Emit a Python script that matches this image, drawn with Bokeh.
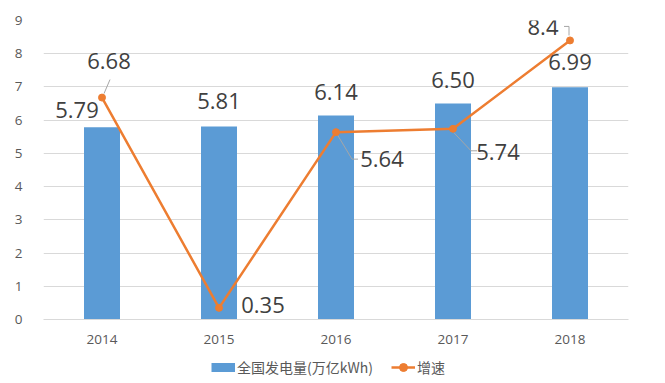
import numpy as np
from bokeh.plotting import figure
from bokeh.layouts import column
from bokeh.models import (ColumnDataSource, FixedTicker, Legend, LegendItem, Range1d)
from bokeh.core.properties import value
from bokeh.embed import file_html
from bokeh.resources import INLINE

# ---- data ----
years = ["2014", "2015", "2016", "2017", "2018"]
generation = [5.79, 5.81, 6.14, 6.50, 6.99]      # 全国发电量(万亿kWh)
growth = [6.68, 0.35, 5.64, 5.74, 8.4]            # 增速
gen_labels = ["5.79", "5.81", "6.14", "6.50", "6.99"]
growth_labels = ["6.68", "0.35", "5.64", "5.74", "8.4"]
y_ticks = [0, 1, 2, 3, 4, 5, 6, 7, 8, 9]
series_names = ["全国发电量(万亿kWh)", "增速"]

# ---- style / layout constants ----
BLUE = "#5B9BD5"
ORANGE = "#ED7D31"
GRID = "#D9D9D9"
TICK_TXT = "#595959"
LBL_TXT = "#404040"
LEADER = "#A6A6A6"

W = 665
H_MAIN = 350
H_LEG = 33
PX_X = 117.0          # pixels per category
PX_Y = 299.0 / 9.0    # pixels per y unit

# label offsets in pixels (screen, y down)
gen_dx = [-25, 0, 0, 0, 0]
gen_dy = [-17, -25, -24, -24, -25]
gr_dx = [7, 44, 46, 45, -27]
gr_dy = [-37, -3, 27, 23, -13]
# leader polylines in pixel offsets from the point
leaders_px = {
    0: [(2, -4), (8, -18)],
    2: [(1, 2), (16, 27), (22, 27)],
    3: [(1, 4), (18, 22), (24, 22)],
    4: [(-1, -5), (-1, -14), (-6, -14)],
}

xs = list(range(len(years)))

p = figure(width=W, height=H_MAIN, output_backend="svg", toolbar_location=None,
           x_range=Range1d(-0.5, len(years) - 0.5), y_range=Range1d(0, 9),
           min_border_left=43, min_border_right=37, min_border_top=20,
           min_border_bottom=H_MAIN - 319)
p.outline_line_color = None
p.background_fill_color = "white"
p.border_fill_color = "white"

# grid
p.xgrid.grid_line_color = None
p.ygrid.grid_line_color = GRID
p.ygrid.grid_line_width = 1
p.ygrid.ticker = FixedTicker(ticks=y_ticks)

# axes
p.yaxis.ticker = FixedTicker(ticks=y_ticks)
p.yaxis.axis_line_color = None
p.yaxis.major_tick_line_color = None
p.yaxis.minor_tick_line_color = None
p.yaxis.major_label_standoff = 15
p.yaxis.major_label_text_font = "Open Sans"
p.yaxis.major_label_text_font_size = "13.5px"
p.yaxis.major_label_text_color = TICK_TXT

p.xaxis.ticker = FixedTicker(ticks=xs)
p.xaxis.major_label_overrides = {i: y for i, y in enumerate(years)}
p.xaxis.axis_line_color = GRID
p.xaxis.major_tick_line_color = None
p.xaxis.minor_tick_line_color = None
p.xaxis.major_label_standoff = 9
p.xaxis.major_label_text_font = "Open Sans"
p.xaxis.major_label_text_font_size = "13.5px"
p.xaxis.major_label_text_color = TICK_TXT

src = ColumnDataSource(dict(x=xs, gen=generation, gr=growth,
                            gen_lbl=gen_labels, gr_lbl=growth_labels,
                            gdx=gen_dx, gdy=gen_dy, rdx=gr_dx, rdy=gr_dy))

bars = p.vbar(x="x", top="gen", width=36 / PX_X, source=src,
              fill_color=BLUE, line_color=None)

# leaders
lx, ly = [], []
for i, pts in leaders_px.items():
    lx.append([xs[i] + dx / PX_X for dx, dy in pts])
    ly.append([growth[i] - dy / PX_Y for dx, dy in pts])
p.multi_line(xs=lx, ys=ly, line_color=LEADER, line_width=1)

line = p.line(x="x", y="gr", source=src, line_color=ORANGE, line_width=2.5)
pts = p.scatter(x="x", y="gr", source=src, size=7, marker="circle",
                fill_color=ORANGE, line_color=ORANGE)

# data labels
p.text(x="x", y="gen", text="gen_lbl", source=src, x_offset="gdx", y_offset="gdy",
       text_font=value("Open Sans"), text_font_size="22px", text_color=LBL_TXT,
       text_align="center", text_baseline="middle")
p.text(x="x", y="gr", text="gr_lbl", source=src, x_offset="rdx", y_offset="rdy",
       text_font=value("Open Sans"), text_font_size="22px", text_color=LBL_TXT,
       text_align="center", text_baseline="middle")

# ---- legend strip (separate figure holding only legend proxies) ----
lg = figure(width=W, height=H_LEG, output_backend="svg", toolbar_location=None,
            x_axis_location=None, y_axis_location=None,
            x_range=Range1d(0, 1), y_range=Range1d(0, 1),
            min_border=0)
lg.outline_line_color = None
lg.grid.visible = False
lg.background_fill_color = "white"
lg.border_fill_color = "white"

nan = [float("nan")]
px_bar = lg.line(x=nan, y=nan, line_color=BLUE, line_width=9, line_cap="butt")
px_line = lg.line(x=nan, y=nan, line_color=ORANGE, line_width=2.5)
px_pt = lg.scatter(x=nan, y=nan, size=7, marker="circle",
                   fill_color=ORANGE, line_color=ORANGE)

legend = Legend(items=[LegendItem(label=series_names[0], renderers=[px_bar]),
                       LegendItem(label=series_names[1], renderers=[px_line, px_pt])],
                orientation="horizontal", location=(168, 6),
                glyph_width=24, glyph_height=20, label_height=20,
                label_standoff=2, spacing=18, padding=0, margin=0,
                label_text_font="Noto Sans CJK SC", label_text_font_size="14px",
                label_text_color=TICK_TXT, border_line_color=None,
                background_fill_alpha=0)
lg.add_layout(legend, "center")

layout = column(p, lg, spacing=0)
open("out.html", "w").write(file_html(layout, INLINE))
